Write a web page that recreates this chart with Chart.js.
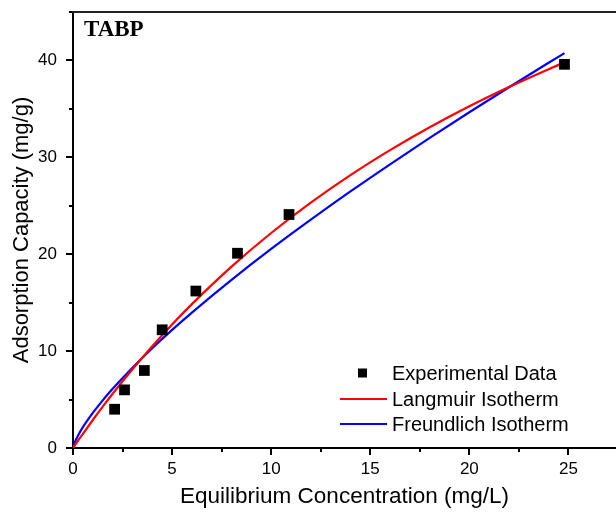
<!DOCTYPE html>
<html>
<head>
<meta charset="utf-8">
<script src="https://cdn.jsdelivr.net/npm/chart.js@4.4.0/dist/chart.umd.min.js"></script>
<style>
html,body{margin:0;padding:0;background:#fff;}
#c{display:block;}
</style>
</head>
<body>
<canvas id="c" width="616" height="517"></canvas>
<script>
// ---- data ----
const expC = [2.1, 2.6, 3.6, 4.5, 6.2, 8.3, 10.9, 24.8];
const expQ = [4.0, 6.0, 8.0, 12.2, 16.2, 20.1, 24.1, 39.6];

const curveC = [0, 0.05, 0.1, 0.25, 0.5, 1, 1.5, 2, 3, 4, 5, 6, 8, 10, 12, 14, 16, 18, 20, 22, 24, 24.8];
const langmuirQ = [0, 0.15, 0.30, 0.74, 1.47, 2.89, 4.27, 5.60, 8.13, 10.51, 12.75, 14.85, 18.72, 22.19, 25.32, 28.16, 30.74, 33.10, 35.27, 37.26, 39.10, 39.80];
const freundlichQ = [0, 0.38, 0.64, 1.27, 2.15, 3.62, 4.92, 6.11, 8.29, 10.30, 12.19, 13.98, 17.36, 20.55, 23.57, 26.48, 29.28, 32.00, 34.65, 37.23, 39.76, 40.75];

const seriesLabels = ['Experimental Data', 'Langmuir Isotherm', 'Freundlich Isotherm'];
const xTitle = 'Equilibrium Concentration (mg/L)';
const yTitle = 'Adsorption Capacity (mg/g)';
const panelLabel = 'TABP';

const xMin = 0, xMax = 27.4, xStep = 2.5, xLabelStep = 5;
const yMin = 0, yMax = 45, yStep = 5, yLabelStep = 10;

const toXY = (xs, ys) => xs.map((x, i) => ({x: x, y: ys[i]}));

const FONT = "'Liberation Sans', Arial, sans-serif";

const tickPlugin = {
  id: 'customTicks',
  afterDraw(chart) {
    const ctx = chart.ctx;
    const ca = chart.chartArea;
    const xs = chart.scales.x, ys = chart.scales.y;
    ctx.save();
    ctx.strokeStyle = '#000';
    ctx.lineWidth = 2;
    ctx.beginPath();
    xs.ticks.forEach(t => {
      const px = Math.round(xs.getPixelForValue(t.value));
      const major = Math.abs(t.value / xLabelStep - Math.round(t.value / xLabelStep)) < 1e-6;
      const len = major ? 7 : 4;
      ctx.moveTo(px, ca.bottom);
      ctx.lineTo(px, ca.bottom + len);
    });
    ys.ticks.forEach(t => {
      const py = Math.round(ys.getPixelForValue(t.value));
      const major = Math.abs(t.value / yLabelStep - Math.round(t.value / yLabelStep)) < 1e-6;
      const len = major ? 7 : 4;
      ctx.moveTo(ca.left, py);
      ctx.lineTo(ca.left - len, py);
    });
    ctx.stroke();
    // top frame line
    ctx.strokeStyle = '#222';
    ctx.beginPath();
    ctx.moveTo(ca.left - 1, ca.top);
    ctx.lineTo(ca.right + 2, ca.top);
    ctx.stroke();
    // panel label
    ctx.fillStyle = '#000';
    ctx.font = "bold 23px 'Liberation Serif', 'Times New Roman', serif";
    ctx.textAlign = 'left';
    ctx.textBaseline = 'alphabetic';
    ctx.fillText(panelLabel, ca.left + 11, ca.top + 24);
    // legend
    const ds = chart.data.datasets;
    const lx = 340, lw = 47, tx = 392;
    const rows = [373, 399, 424];
    ctx.font = "20px " + FONT;
    ctx.textBaseline = 'middle';
    ds.forEach((d, i) => {
      const y = rows[i];
      if (i === 0) {
        ctx.fillStyle = d.backgroundColor;
        ctx.fillRect(lx + lw / 2 - 4.5 - 1, y - 4.5, 9, 9);
      } else {
        ctx.strokeStyle = d.borderColor;
        ctx.lineWidth = 2;
        ctx.beginPath();
        ctx.moveTo(lx, y);
        ctx.lineTo(lx + lw, y);
        ctx.stroke();
      }
      ctx.fillStyle = '#000';
      ctx.fillText(d.label, tx, y + 1);
    });
    ctx.restore();
  }
};

new Chart(document.getElementById('c'), {
  type: 'scatter',
  data: {
    datasets: [
      {
        label: seriesLabels[0],
        data: toXY(expC, expQ),
        pointStyle: 'rect',
        pointRadius: 7.6,
        pointHoverRadius: 7.6,
        backgroundColor: '#000',
        borderColor: '#000',
        borderWidth: 0,
        showLine: false,
        order: 0
      },
      {
        label: seriesLabels[1],
        data: toXY(curveC, langmuirQ),
        showLine: true,
        pointRadius: 0,
        borderColor: '#ff0000',
        backgroundColor: '#ff0000',
        borderWidth: 2.2,
        cubicInterpolationMode: 'monotone',
        order: 1
      },
      {
        label: seriesLabels[2],
        data: toXY(curveC, freundlichQ),
        showLine: true,
        pointRadius: 0,
        borderColor: '#0000ff',
        backgroundColor: '#0000ff',
        borderWidth: 2.2,
        cubicInterpolationMode: 'monotone',
        order: 2
      }
    ]
  },
  options: {
    responsive: false,
    animation: false,
    devicePixelRatio: 1,
    layout: {autoPadding: false, padding: {top: 12, right: 0, left: 0, bottom: 0}},
    plugins: {legend: {display: false}, tooltip: {enabled: false}},
    scales: {
      x: {
        type: 'linear',
        min: xMin, max: xMax,
        afterFit: s => { s.height = 69; s.paddingLeft = 0; s.paddingRight = 0; },
        border: {display: true, color: '#000', width: 2},
        grid: {drawOnChartArea: false, drawTicks: true, tickLength: 7, tickColor: 'rgba(0,0,0,0)'},
        ticks: {
          stepSize: xStep,
          includeBounds: false,
          autoSkip: false,
          maxRotation: 0,
          padding: 4,
          color: '#000',
          font: {family: FONT, size: 17},
          callback: v => (Math.abs(v / xLabelStep - Math.round(v / xLabelStep)) < 1e-6 ? String(v) : '')
        },
        title: {display: true, text: xTitle, color: '#000', font: {family: FONT, size: 22.5}, padding: {top: 0, bottom: 7}}
      },
      y: {
        type: 'linear',
        min: yMin, max: yMax,
        afterFit: s => { s.width = 73; s.paddingTop = 0; s.paddingBottom = 0; },
        border: {display: true, color: '#000', width: 2},
        grid: {drawOnChartArea: false, drawTicks: true, tickLength: 7, tickColor: 'rgba(0,0,0,0)'},
        ticks: {
          stepSize: yStep,
          includeBounds: false,
          autoSkip: false,
          padding: 9,
          color: '#000',
          font: {family: FONT, size: 17},
          callback: v => (Math.abs(v / yLabelStep - Math.round(v / yLabelStep)) < 1e-6 ? String(v) : '')
        },
        title: {display: true, text: yTitle, color: '#000', font: {family: FONT, size: 22}, padding: {top: 9, bottom: 0}}
      }
    }
  },
  plugins: [tickPlugin]
});
</script>
</body>
</html>
